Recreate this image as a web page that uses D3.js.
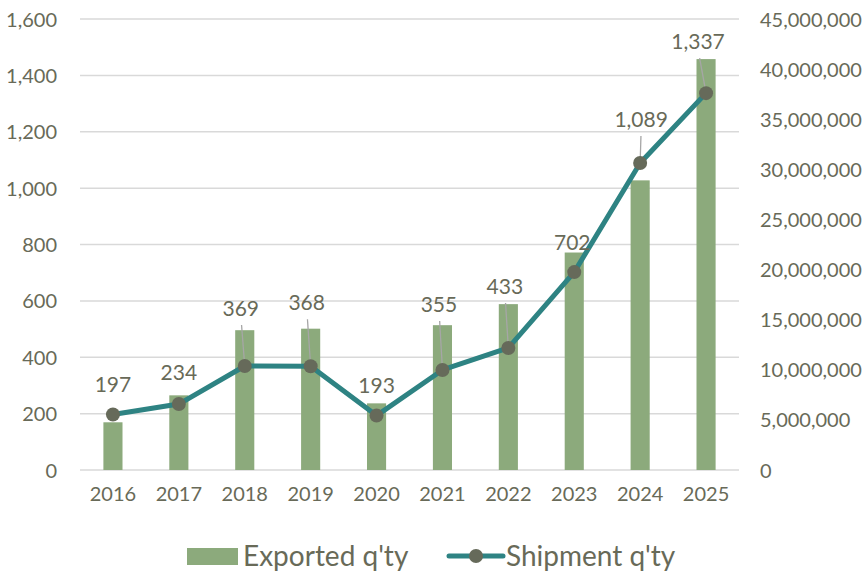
<!DOCTYPE html>
<html>
<head>
<meta charset="utf-8">
<script src="https://cdn.jsdelivr.net/npm/d3@7"></script>
<style>
	body { margin:0; background:#fff; }
	svg text { font-family: 'Gill Sans', Lato, 'Noto Sans', sans-serif; fill:#686a58; }
</style>
</head>
<body>
<svg id="chart-1" width="867" height="576"></svg>
<script>
// Data
const years = ['2016','2017','2018','2019','2020','2021','2022','2023','2024','2025'];
const exported = [4760000, 7450000, 13950000, 14100000, 6650000, 14450000, 16550000, 21700000, 28900000, 41000000];
const shipment = [197, 234, 369, 368, 193, 355, 433, 702, 1089, 1337];
const leftTicks = [0, 200, 400, 600, 800, 1000, 1200, 1400, 1600];
const rightTicks = [0, 5e6, 10e6, 15e6, 20e6, 25e6, 30e6, 35e6, 40e6, 45e6];
const seriesNames = ["Exported q'ty", "Shipment q'ty"];

// label nudges (dx, dy of label baseline from the point) - layout only
const labelShift = [[0,-22],[0,-24],[-4,-50],[-4,-56],[0,-23],[-3.5,-58],[-3.5,-54],[-2,-22],[1,-36],[-8,-44]];

const svg = d3.select('svg#chart-1');
const margin = {top:19, right:128, bottom:106, left:80};
const width = 867, height = 576;
const innerW = width - margin.left - margin.right;
const innerH = height - margin.top - margin.bottom;

const x = d3.scaleBand().domain(years).range([margin.left, margin.left+innerW]).paddingInner(0.71).paddingOuter(0.355);
const yL = d3.scaleLinear().domain([0,1600]).range([margin.top+innerH, margin.top]);
const yR = d3.scaleLinear().domain([0,45e6]).range([margin.top+innerH, margin.top]);
const fmt = d3.format(',');

// gridlines
svg.append('g').selectAll('line').data(leftTicks)
	.enter().append('line')
		.attr('x1', margin.left).attr('x2', margin.left+innerW)
		.attr('y1', d=>yL(d)).attr('y2', d=>yL(d))
		.attr('stroke','#d9d9d9').attr('stroke-width',1.5);

// left axis
const axL = svg.append('g').attr('transform',`translate(${margin.left-23},0)`)
	.call(d3.axisLeft(yL).tickValues(leftTicks).tickFormat(fmt).tickSize(0).tickPadding(0));
axL.select('.domain').remove();
axL.selectAll('text').attr('font-size','20px').attr('fill','#686a58').attr('dy','0.35em');

// right axis
const axR = svg.append('g').attr('transform',`translate(${margin.left+innerW+21},0)`)
	.call(d3.axisRight(yR).tickValues(rightTicks).tickFormat(fmt).tickSize(0).tickPadding(0));
axR.select('.domain').remove();
axR.selectAll('text').attr('font-size','20px').attr('fill','#686a58').attr('dy','0.35em');

// bottom axis
const axB = svg.append('g').attr('transform',`translate(0,${margin.top+innerH+17})`)
	.call(d3.axisBottom(x).tickSize(0).tickPadding(0));
axB.select('.domain').remove();
axB.selectAll('text').attr('font-size','20px').attr('fill','#686a58').attr('dy','0.7em');

// bars
svg.append('g').selectAll('rect').data(exported)
	.enter().append('rect')
		.attr('x', (d,i)=>x(years[i]))
		.attr('width', x.bandwidth())
		.attr('y', d=>yR(d))
		.attr('height', d=>yR(0)-yR(d))
		.attr('fill','#8caa7c');

const cx = i => x(years[i]) + x.bandwidth()/2;

// leader lines for labels that were pulled away from their point
const leaderIdx = d3.range(shipment.length).filter(i => labelShift[i][1] < -30);
svg.append('g').selectAll('line').data(leaderIdx)
	.enter().append('line')
		.attr('x1', i=>cx(i)+labelShift[i][0]*0.8)
		.attr('y1', i=>yL(shipment[i])+labelShift[i][1]+9)
		.attr('x2', i=>cx(i))
		.attr('y2', i=>yL(shipment[i]))
		.attr('stroke','#a6a6a6').attr('stroke-width',1.3);

// line
const line = d3.line().x((d,i)=>cx(i)).y(d=>yL(d));
svg.append('path').datum(shipment)
	.attr('d', line).attr('fill','none')
	.attr('stroke','#2e8383').attr('stroke-width',5).attr('stroke-linejoin','round');

svg.append('g').selectAll('circle').data(shipment)
	.enter().append('circle')
		.attr('cx',(d,i)=>cx(i)).attr('cy',d=>yL(d)).attr('r',7)
		.attr('fill','#666a5a');

// data labels
svg.append('g').selectAll('text').data(shipment)
	.enter().append('text')
		.attr('x',(d,i)=>cx(i)+labelShift[i][0])
		.attr('y',(d,i)=>yL(d)+labelShift[i][1])
		.attr('text-anchor','middle')
		.attr('font-size','21px')
		.text(d=>fmt(d));

// legend
const lg = svg.append('g');
lg.append('rect').attr('x',187).attr('y',548).attr('width',51).attr('height',17).attr('fill','#8caa7c');
lg.append('text').attr('x',243).attr('y',566).attr('font-size','28px').text(seriesNames[0]);
lg.append('line').attr('x1',449).attr('x2',503).attr('y1',556).attr('y2',556)
	.attr('stroke','#2e8383').attr('stroke-width',5).attr('stroke-linecap','round');
lg.append('circle').attr('cx',476).attr('cy',556).attr('r',7).attr('fill','#666a5a');
lg.append('text').attr('x',506).attr('y',566).attr('font-size','28px').text(seriesNames[1]);
</script>
</body>
</html>
